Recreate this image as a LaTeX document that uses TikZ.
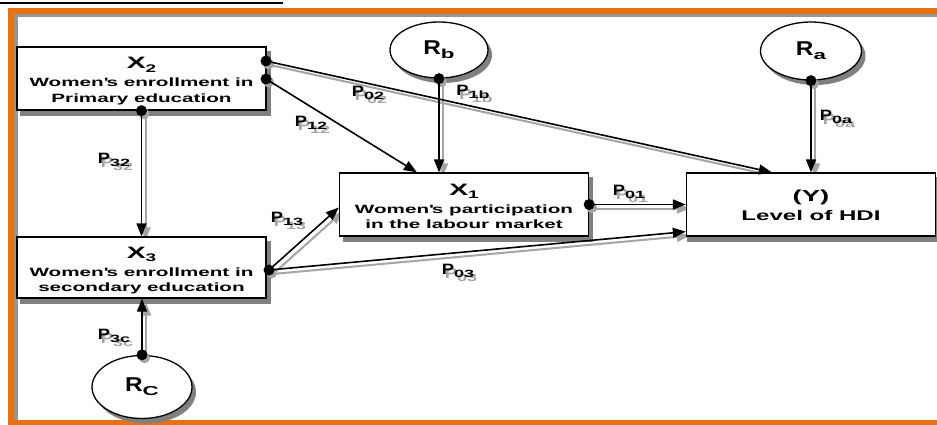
\documentclass[tikz,border=0pt]{standalone}
\usepackage{fontspec}
\setmainfont{Liberation Sans}[FakeStretch=1.72]
\newfontfamily\narrowf{Liberation Sans}[FakeStretch=1.22]
\usetikzlibrary{shapes.geometric,calc,arrows.meta}
\definecolor{borderorange}{RGB}{232,114,18}
\definecolor{boxshadow}{RGB}{128,128,128}
\definecolor{lineshadow}{RGB}{165,165,165}
\definecolor{innergray}{RGB}{150,150,150}
\newcommand\mysub[2][9]{\raisebox{-0.35ex}{\normalfont\bfseries\fontsize{#1}{#1}\selectfont #2}}
\newcommand\firstline[1]{{\fontsize{16.5}{15.5}\selectfont\rule{0pt}{17.5pt}X\mysub[11]{#1}}\\[2.5pt]}
\newcommand\lastline[1]{#1\rule[-3pt]{0pt}{3pt}}
\pgfdeclarelayer{back}
\pgfdeclarelayer{bg}
\pgfdeclarelayer{fg}
\pgfdeclarelayer{top}
\pgfsetlayers{back,bg,main,fg,top}
\tikzset{
  box/.style={draw=black, line width=1.3pt, fill=white, minimum width=249pt,
    minimum height=63pt, inner sep=0pt, align=center,
    font=\bfseries\fontsize{12}{15.5}\selectfont},
  rv/.style={ellipse, draw=black, line width=1.3pt, fill=white, inner sep=0pt,
    font=\narrowf\bfseries\fontsize{20}{20}\selectfont},
  dot/.style={circle, fill=black, minimum size=11pt, inner sep=0pt},
  con/.style={line width=1.6pt, -{Triangle[length=13pt,width=10pt]}},
  conshadow/.style={draw=lineshadow, line width=2pt, -{Triangle[length=13pt,width=10pt]}},
  plab/.style={font=\narrowf\bfseries\fontsize{15}{15}\selectfont, inner sep=0pt},
  plabsh/.style={plab, text=lineshadow},
  shadowfill/.style={fill=boxshadow},
  dotshadow/.style={fill=lineshadow}
}
\newcommand\plabel[3]{%
  \node[plabsh] at ($(#1)+(3,4)$) {P\mysub[10.5]{#3}};
  \node[plab] (#2) at (#1) {P\mysub[10.5]{#3}};}
\newcommand\shcon[2]{%
  \draw[conshadow] ($(#1)+(4,4)$) -- ($(#2)+(4,4)$);}
\newcommand\boxsh[2]{%
  \path[shadowfill] ($(#1.north west)+(#2,5)$) rectangle ($(#1.south east)+(#2,5)$);}
\newcommand\ellsh[3]{%
  \path[shadowfill] ($(#1.center)+(4,5)$) ellipse [x radius=#2, y radius=#3];}
\newcommand\dotsh[1]{%
  \path[dotshadow] ($(#1.center)+(2.5,3)$) circle [radius=5.5];}
\newcommand\apo{\textquotesingle}
\begin{document}
\begin{tikzpicture}[x=1pt,y=-1pt]
\useasboundingbox (0,0) rectangle (937,425);
% frame
\begin{pgfonlayer}{back}
\fill[white] (0,0) rectangle (937,425);
\draw[line width=1.6pt] (0,3) -- (283,3);
\fill[borderorange] (8,8) rectangle (937,14);
\fill[borderorange] (8,8) rectangle (14,425);
\fill[borderorange] (8,420) rectangle (937,425);
\fill[innergray] (14,14) rectangle (937,17.5);
\fill[innergray] (14,14) rectangle (18,420);
\end{pgfonlayer}
% boxes
\node[box] (X2) at (141.5,78.5) {\firstline{2}Women\apo s enrollment in\\\lastline{Primary education}};
\node[box, minimum height=61pt] (X3) at (141.5,267.5) {\firstline{3}Women\apo s enrollment in\\\lastline{secondary education}};
\node[box] (X1) at (464,204.5) {\firstline{1}Women\apo s participation\\\lastline{in the labour market}};
\node[box] (Y) at (811,204.5) {{\fontsize{16}{16}\selectfont\rule{0pt}{15pt}(Y)}\\[4pt]{\fontsize{14}{16}\selectfont Level of HDI\rule[-2pt]{0pt}{2pt}}};
% random variables
\node[rv, minimum width=98pt, minimum height=56pt] (Rb) at (439,50) {R\mysub[13]{b}};
\node[rv, minimum width=101pt, minimum height=58pt] (Ra) at (811,51) {R\mysub[13]{a}};
\node[rv, minimum width=100pt, minimum height=63pt] (Rc) at (142,387) {R\mysub[13]{C}};
% dots
\begin{pgfonlayer}{top}
\node[dot] (d2a) at (266,61) {};
\node[dot] (d2b) at (266,79) {};
\node[dot] (d2c) at (X2.south) {};
\node[dot] (d3) at (269,270) {};
\node[dot] (d1) at (X1.east) {};
\node[dot] (rbd) at (Rb.south) {};
\node[dot] (rad) at (Ra.south) {};
\node[dot] (rcd) at (Rc.north) {};
\end{pgfonlayer}
% end points
\coordinate (x1n1) at ($(X1.north west)+(78,0)$);
\coordinate (x1n2) at (X1.north -| rbd);
\coordinate (yn1) at ($(Y.north west)+(86,0)$);
\coordinate (yn2) at (Y.north -| rad);
\coordinate (yw1) at (Y.west |- d1);
\coordinate (yw2) at ($(Y.south west)+(0,-5)$);
\coordinate (x1w) at ($(X1.west)+(0,3)$);
\coordinate (x3n) at (X3.north -| d2c);
\coordinate (x3s) at (X3.south -| rcd);
% shadows
\begin{pgfonlayer}{bg}
\boxsh{X2}{4}\boxsh{X3}{4}\boxsh{X1}{4}\boxsh{Y}{1.2}
\ellsh{Rb}{49}{28}\ellsh{Ra}{50.5}{29}\ellsh{Rc}{50}{31.5}
\shcon{d2a.center}{yn1}
\shcon{rbd.center}{x1n2}
\shcon{rad.center}{yn2}
\shcon{d1.center}{yw1}
\shcon{d3.center}{x1w}
\shcon{d3.center}{yw2}
\shcon{d2c.center}{x3n}
\shcon{rcd.center}{x3s}
\end{pgfonlayer}
% connectors
\begin{pgfonlayer}{fg}
\dotsh{d2a}\dotsh{d2b}\dotsh{d2c}\dotsh{d3}\dotsh{d1}\dotsh{rbd}\dotsh{rad}\dotsh{rcd}
\draw[con] (d2a.center) -- (yn1);
\draw[con] (d2b.center) -- (x1n1);
\draw[con] (rbd.center) -- (x1n2);
\draw[con] (rad.center) -- (yn2);
\draw[con] (d1.center) -- (yw1);
\draw[con] (d3.center) -- (x1w);
\draw[con] (d3.center) -- (yw2);
\draw[con] (d2c.center) -- (x3n);
\draw[con] (rcd.center) -- (x3s);
\end{pgfonlayer}
% path labels
\plabel{368,93}{p02}{02}
\plabel{473,92}{p1b}{1b}
\plabel{311,123}{p12}{12}
\plabel{836,117}{p0a}{0a}
\plabel{114,160}{p32}{32}
\plabel{287,219}{p13}{13}
\plabel{629,192}{p01}{01}
\plabel{458,271}{p03}{03}
\plabel{114,336}{p3c}{3c}
\end{tikzpicture}
\end{document}
